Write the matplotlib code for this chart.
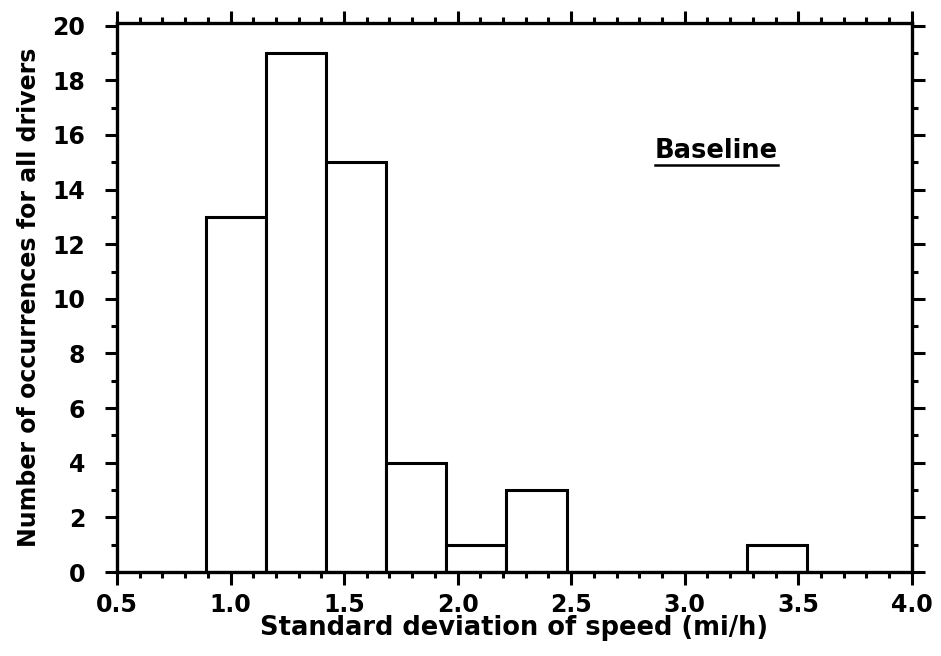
import matplotlib
matplotlib.use("Agg")
import matplotlib.pyplot as plt
import numpy as np
from matplotlib.ticker import MultipleLocator

# bin edges (mi/h) and counts
bin_edges = [0.89, 1.155, 1.42, 1.685, 1.95, 2.215, 2.48, 2.745, 3.01, 3.275, 3.54]
counts = [13, 19, 15, 4, 1, 3, 0, 0, 0, 1]
x_ticks = [0.5, 1.0, 1.5, 2.0, 2.5, 3.0, 3.5, 4.0]
y_ticks = [0, 2, 4, 6, 8, 10, 12, 14, 16, 18, 20]

plt.rcParams['font.family'] = ['DejaVu Sans']

fig = plt.figure(figsize=(9.41, 6.56), dpi=100)
ax = fig.add_axes([0.1243, 0.128, 0.8447, 0.837])

edges = np.array(bin_edges)
ax.bar(edges[:-1], counts, width=np.diff(edges), align='edge',
       facecolor='white', edgecolor='black', linewidth=2.2, zorder=2)

ax.set_xlim(0.5, 4.0)
ax.set_ylim(0, 20.1)
ax.set_xticks(x_ticks)
ax.set_xticklabels([f"{v:.1f}" for v in x_ticks])
ax.set_yticks(y_ticks)
ax.xaxis.set_minor_locator(MultipleLocator(0.1))
ax.yaxis.set_minor_locator(MultipleLocator(1))

for s in ax.spines.values():
    s.set_linewidth(2.4)
ax.tick_params(which='both', direction='out', top=True, right=True,
               labeltop=False, labelright=False, width=2.2, labelsize=17)
ax.tick_params(which='major', length=9)
ax.tick_params(which='minor', length=4.5)
ax.tick_params(axis='x', which='major', pad=6)
ax.tick_params(axis='y', which='major', pad=14)
for lab in ax.get_xticklabels() + ax.get_yticklabels():
    lab.set_fontweight('bold')

ax.set_xlabel('Standard deviation of speed (mi/h)', fontsize=18.5, fontweight='bold', labelpad=-1)
ax.set_ylabel('Number of occurrences for all drivers', fontsize=17, fontweight='bold', labelpad=8)

# underlined "Baseline" label
t = ax.text(3.14, 15.4, 'Baseline', fontsize=18.5, fontweight='bold',
            ha='center', va='center')
fig.canvas.draw()
bb = t.get_window_extent().transformed(ax.transAxes.inverted())
ax.plot([bb.x0, bb.x1], [bb.y0 - 0.002, bb.y0 - 0.002], color='black',
        linewidth=1.8, transform=ax.transAxes)

fig.savefig('out.png', dpi=100)
